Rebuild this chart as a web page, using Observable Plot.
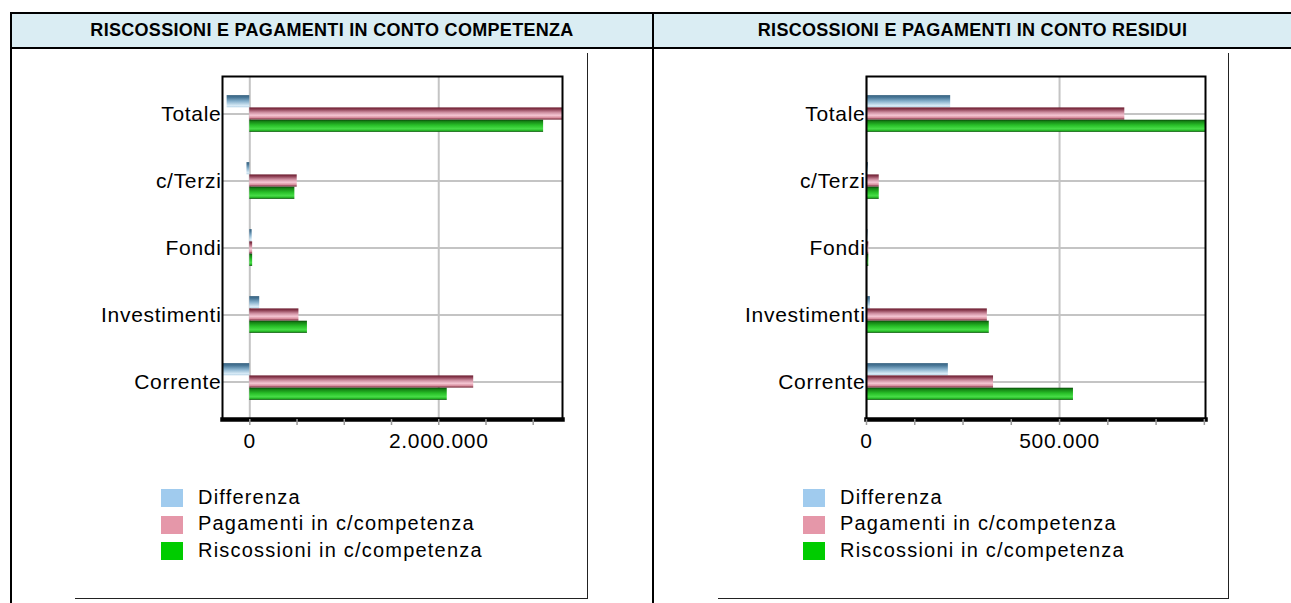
<!DOCTYPE html>
<html>
<head>
<meta charset="utf-8">
<script src="https://cdn.jsdelivr.net/npm/d3@7"></script>
<script src="https://cdn.jsdelivr.net/npm/@observablehq/plot@0.6"></script>
<style>
  html, body { margin: 0; padding: 0; background: #fff; }
  #page { position: relative; width: 1291px; height: 603px; overflow: hidden; font-family: "Liberation Sans", Arial, sans-serif; color: #000; }
  .line { position: absolute; background: #000; }
  .hdr { position: absolute; top: 14px; height: 33px; background: #daedf3; display: flex; align-items: center; justify-content: center; font-weight: bold; font-size: 18px; letter-spacing: 0.3px; }
  .legend { position: absolute; font-size: 20px; letter-spacing: 1.2px; }
  .legend .item { position: absolute; white-space: nowrap; }
  .legend .sw { position: absolute; width: 22px; height: 18px; }
</style>
</head>
<body>
<div id="page"></div>
<script>
// ---------- data ----------
const categories = ["Totale", "c/Terzi", "Fondi", "Investimenti", "Corrente"];
const seriesNames = ["Differenza", "Pagamenti in c/competenza", "Riscossioni in c/competenza"];
const seriesColors = ["#a0cbee", "#e597a9", "#00cc00"];
const titles = ["RISCOSSIONI E PAGAMENTI IN CONTO COMPETENZA", "RISCOSSIONI E PAGAMENTI IN CONTO RESIDUI"];

const compDifferenza  = [-240000, -30000, 25000, 105000, -280000];
const compPagamenti   = [3417000, 502000, 30000, 520000, 2370000];
const compRiscossioni = [3110000, 477000, 30000, 610000, 2090000];

const resDifferenza  = [218000, 5000, 4000, 10000, 212000];
const resPagamenti   = [669000, 33000, 6000, 313000, 329000];
const resRiscossioni = [892000, 33000, 6000, 318000, 536000];

const compTicks = [0, 500000, 1000000, 1500000, 2000000, 2500000, 3000000];
const compLabels = [0, 2000000];
const resTicks = [0, 125000, 250000, 375000, 500000, 625000, 750000, 875000];
const resLabels = [0, 500000];

// ---------- helpers ----------
const itLocale = d3.formatLocale({decimal: ",", thousands: ".", grouping: [3], currency: ["€", ""]});
const fmt = itLocale.format(",");

const page = document.getElementById("page");
function line(x, y, w, h, color) {
  const d = document.createElement("div");
  d.className = "line";
  Object.assign(d.style, {left: x + "px", top: y + "px", width: w + "px", height: h + "px"});
  if (color) d.style.background = color;
  page.appendChild(d);
}

function addDefs(svg) {
  const defs = d3.select(svg).insert("defs", ":first-child");
  const grads = {
    gradDiff: [[0, "#36617f"], [0.2, "#4a7898"], [0.5, "#86b0cc"], [0.85, "#d6e9f5"], [1, "#b9d5e8"]],
    gradPag: [[0, "#6a1a2c"], [0.15, "#8a3c50"], [0.4, "#cc8c9e"], [0.65, "#f5c6d3"], [0.85, "#d68c9c"], [1, "#6a1a2c"]],
    gradRisc: [[0, "#0a4a0a"], [0.15, "#158515"], [0.45, "#28bf28"], [0.75, "#48de48"], [0.9, "#22b022"], [1, "#0a4a0a"]]
  };
  for (const [id, stops] of Object.entries(grads)) {
    const g = defs.append("linearGradient").attr("id", id).attr("x1", 0).attr("y1", 0).attr("x2", 0).attr("y2", 1);
    for (const [o, c] of stops) g.append("stop").attr("offset", o).attr("stop-color", c);
  }
}

function chart(diff, pag, risc, xDomain, ticks, labels, marginLeft) {
  const rows = categories.map((c, i) => ({category: c, diff: diff[i], pag: pag[i], risc: risc[i]}));
  const height = 411, marginTop = 28, marginBottom = 40;
  const paddingOuter = 0.055;
  const bandwidth = (height - marginTop - marginBottom) / (categories.length + 2 * paddingOuter);
  const bh = 12.3;
  const inset = (bandwidth - bh) / 2;
  const svg = Plot.plot({
    width: 577, height, marginTop, marginBottom, marginLeft, marginRight: 25,
    style: {fontFamily: "'Liberation Sans', Arial, sans-serif", fontSize: "21px", letterSpacing: "0.7px", color: "#000", background: "transparent", overflow: "visible"},
    x: {domain: xDomain, label: null},
    y: {domain: categories, paddingInner: 0, paddingOuter, label: null},
    marks: [
      Plot.gridY({stroke: "#c4c4c4", strokeOpacity: 1, strokeWidth: 2}),
      Plot.gridX({ticks: labels, stroke: "#c4c4c4", strokeOpacity: 1, strokeWidth: 2}),
      Plot.barX(rows, {y: "category", x: "diff", fill: "url(#gradDiff)", insetTop: inset, insetBottom: inset, dy: -bh, clip: true}),
      Plot.barX(rows, {y: "category", x: "pag", fill: "url(#gradPag)", insetTop: inset, insetBottom: inset, clip: true}),
      Plot.barX(rows, {y: "category", x: "risc", fill: "url(#gradRisc)", insetTop: inset, insetBottom: inset, dy: bh, clip: true}),
      Plot.frame({stroke: "#000", strokeWidth: 2}),
      Plot.frame({anchor: "bottom", stroke: "#000", strokeWidth: 4.5}),
      Plot.axisX({ticks, tickSize: 6, tickFormat: () => "", stroke: "#9a9a9a", strokeWidth: 1.5, label: null}),
      Plot.axisX({ticks: labels, tickSize: 0, tickPadding: 14, tickFormat: fmt, fill: "#000", label: null}),
      Plot.axisY({tickSize: 0, tickPadding: 1, fill: "#000", label: null})
    ]
  });
  addDefs(svg);
  return svg;
}

function legend(x, y) {
  const lg = document.createElement("div");
  lg.className = "legend";
  lg.style.left = x + "px";
  lg.style.top = y + "px";
  seriesNames.forEach((name, i) => {
    const sw = document.createElement("div");
    sw.className = "sw";
    sw.style.left = "0px";
    sw.style.top = (i * 26.7) + "px";
    sw.style.background = seriesColors[i];
    lg.appendChild(sw);
    const t = document.createElement("div");
    t.className = "item";
    t.textContent = name;
    t.style.left = "37px";
    t.style.top = (i * 26.7 - 3.5) + "px";
    lg.appendChild(t);
  });
  page.appendChild(lg);
}

// ---------- table frame ----------
const cells = [[12, 640], [654, 637]];
cells.forEach(([x, w], i) => {
  const h = document.createElement("div");
  h.className = "hdr";
  h.style.left = x + "px";
  h.style.width = w + "px";
  h.textContent = titles[i];
  page.appendChild(h);
});
line(10, 12, 1281, 2);
line(10, 47, 1281, 2);
line(10, 12, 2, 591);
line(652, 12, 2, 591);

// inner frames
line(587, 53, 1, 546, "#222");
line(75, 598, 513, 1, "#222");
line(1228, 53, 1, 546, "#222");
line(718, 598, 511, 1, "#222");

// ---------- charts ----------
const c1 = chart(compDifferenza, compPagamenti, compRiscossioni, [-289000, 3310000], compTicks, compLabels, 212);
c1.style.position = "absolute";
c1.style.left = "10px";
c1.style.top = "48px";
page.appendChild(c1);

const c2 = chart(resDifferenza, resPagamenti, resRiscossioni, [0, 878000], resTicks, resLabels, 213);
c2.style.position = "absolute";
c2.style.left = "653px";
c2.style.top = "48px";
page.appendChild(c2);

legend(161, 489);
legend(803, 489);
</script>
</body>
</html>
